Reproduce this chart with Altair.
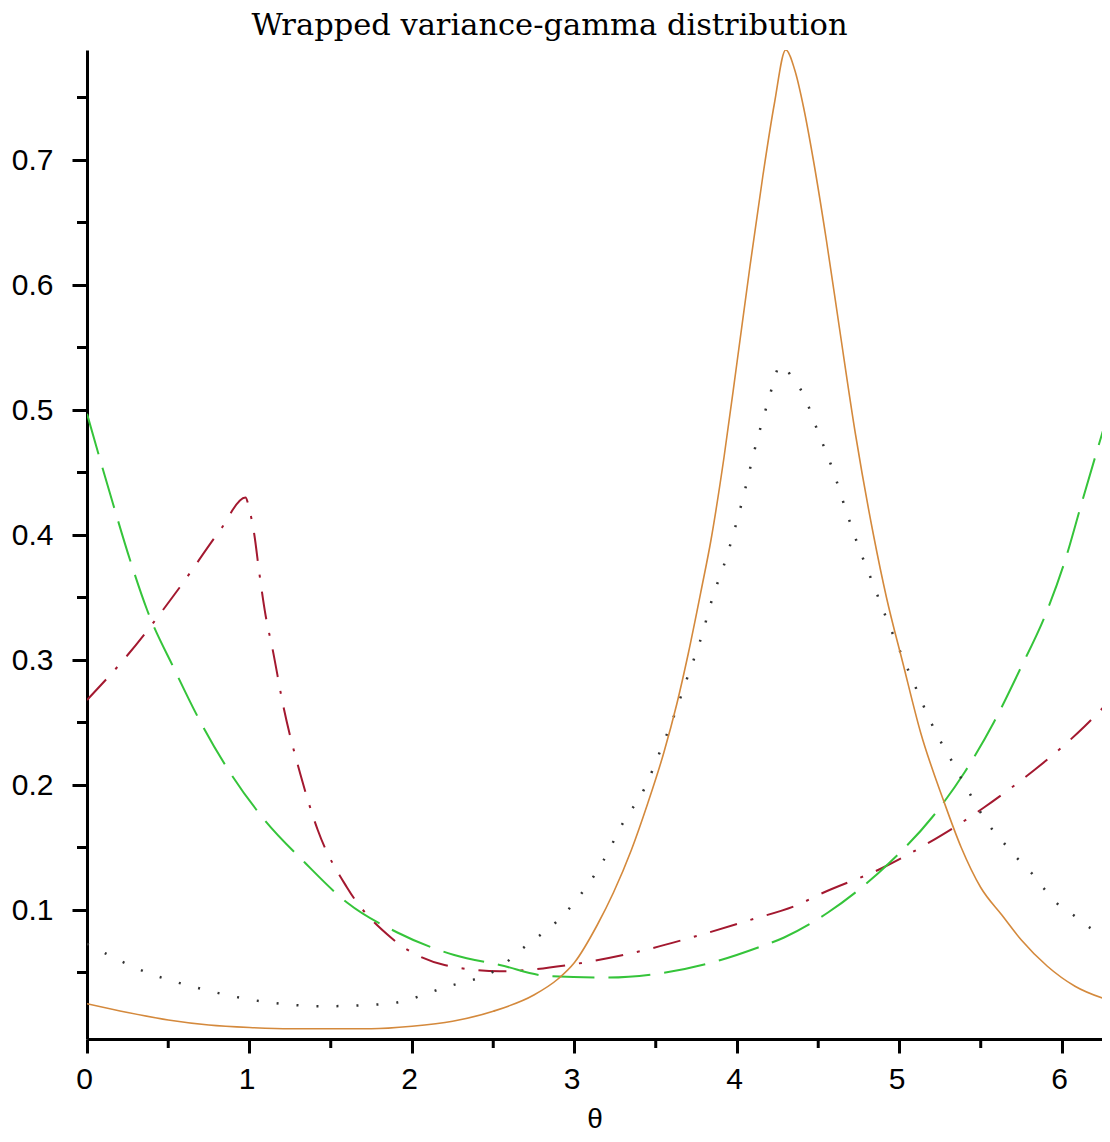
import altair as alt
import pandas as pd

TITLE = "Wrapped variance-gamma distribution"
X_TITLE = "θ"

# solid orange curve
orange_theta = [0, 0.25, 0.5, 0.75, 1.0, 1.25, 1.5, 1.75, 2.0, 2.25, 2.5, 2.75, 2.9, 3.0,
                3.14, 3.24, 3.35, 3.45, 3.55, 3.63, 3.70, 3.78, 3.84, 3.92, 4.0, 4.08,
                4.16, 4.23, 4.30, 4.36, 4.41, 4.47, 4.55, 4.63, 4.73, 4.84, 4.92, 5.02,
                5.13, 5.27, 5.38, 5.50, 5.63, 5.75, 5.91, 6.08, 6.283]
orange_val = [0.025, 0.018, 0.012, 0.008, 0.006, 0.005, 0.005, 0.005, 0.007, 0.011, 0.019,
              0.032, 0.045, 0.058, 0.088, 0.114, 0.148, 0.185, 0.226, 0.265, 0.305, 0.356,
              0.396, 0.462, 0.538, 0.615, 0.688, 0.745, 0.788, 0.77, 0.742, 0.70, 0.636,
              0.566, 0.48, 0.40, 0.35, 0.298, 0.242, 0.188, 0.150, 0.118, 0.096, 0.076,
              0.055, 0.039, 0.028]

# dash-dot red curve
red_theta = [0, 0.25, 0.57, 0.82, 0.975, 1.0, 1.03, 1.06, 1.10, 1.14, 1.21, 1.31, 1.42,
             1.60, 1.87, 2.2, 2.54, 2.96, 3.37, 3.72, 4.08, 4.39, 4.5, 4.9, 5.02, 5.17,
             5.36, 5.52, 5.69, 5.83, 5.98, 6.14, 6.283]
red_val = [0.268, 0.304, 0.358, 0.404, 0.43, 0.42, 0.40, 0.37, 0.335, 0.31, 0.262, 0.21,
           0.164, 0.118, 0.078, 0.056, 0.051, 0.056, 0.066, 0.078, 0.092, 0.105, 0.112,
           0.134, 0.142, 0.153, 0.168, 0.182, 0.198, 0.212, 0.228, 0.247, 0.266]

# dashed green curve
green_theta = [0, 0.16, 0.265, 0.37, 0.54, 0.70, 0.88, 1.08, 1.34, 1.60, 1.91, 2.26, 2.54,
               2.85, 3.2, 3.51, 3.9, 4.13, 4.29, 4.56, 4.94, 5.20, 5.40, 5.58, 5.74,
               5.91, 6.02, 6.12, 6.283]
green_val = [0.497, 0.425, 0.38, 0.34, 0.292, 0.25, 0.21, 0.174, 0.138, 0.106, 0.082,
             0.064, 0.056, 0.047, 0.046, 0.049, 0.06, 0.07, 0.078, 0.098, 0.138, 0.174,
             0.21, 0.25, 0.292, 0.34, 0.38, 0.425, 0.497]

# dotted black curve
black_theta = [0, 0.35, 0.70, 1.07, 1.46, 1.85, 2.2, 2.54, 2.67, 2.96, 3.18, 3.30, 3.43,
               3.53, 3.62, 3.70, 3.78, 3.85, 3.93, 4.03, 4.12, 4.19, 4.27, 4.34, 4.41,
               4.5, 4.59, 4.67, 4.75, 4.84, 4.93, 5.02, 5.08, 5.18, 5.24, 5.31, 5.42,
               5.55, 5.64, 5.72, 5.81, 5.89, 5.98, 6.07, 6.17, 6.283]
black_val = [0.073, 0.051, 0.037, 0.027, 0.023, 0.025, 0.038, 0.054, 0.068, 0.10, 0.14,
             0.17, 0.197, 0.228, 0.258, 0.288, 0.318, 0.35, 0.38, 0.426, 0.474, 0.506,
             0.536, 0.526, 0.512, 0.482, 0.452, 0.42, 0.39, 0.36, 0.33, 0.302, 0.284,
             0.254, 0.238, 0.222, 0.196, 0.168, 0.154, 0.142, 0.13, 0.117, 0.104, 0.096,
             0.086, 0.076]

x_major = [0, 1, 2, 3, 4, 5, 6]
x_minor = [0.5, 1.5, 2.5, 3.5, 4.5, 5.5]
y_major = [0.1, 0.2, 0.3, 0.4, 0.5, 0.6, 0.7]
y_minor = [0.05, 0.15, 0.25, 0.35, 0.45, 0.55, 0.65, 0.75]

W, H = 1015, 989
LABEL_FONT = "Liberation Sans"

xscale = alt.Scale(domain=[0, 6.2463], nice=False, zero=False)
yscale = alt.Scale(domain=[-0.0032, 0.788], nice=False, zero=False)

x_axis = alt.Axis(values=x_major, format="d", title=X_TITLE, grid=False,
                  labelFont=LABEL_FONT, labelFontSize=30, labelColor="black",
                  labelPadding=11, labelFlush=False, labelOverlap=False, labelOffset=-3,
                  tickSize=14, tickWidth=3, tickColor="black",
                  domainWidth=3, domainColor="black",
                  titleFont=LABEL_FONT, titleFontSize=28, titleFontWeight="normal",
                  titleColor="black", titlePadding=11)
y_axis = alt.Axis(values=y_major, format=".1f", title=None, grid=False,
                  labelFont=LABEL_FONT, labelFontSize=30, labelColor="black",
                  labelPadding=19, labelFlush=False, labelOverlap=False,
                  tickSize=15, tickWidth=3, tickColor="black",
                  domainWidth=3, domainColor="black")


def curve(theta, vals, color, width, dash=None):
    df = pd.DataFrame({"theta": theta, "value": vals})
    props = dict(color=color, strokeWidth=width, interpolate="monotone", clip=True)
    if dash is not None:
        props["strokeDash"] = dash
        props["strokeCap"] = "butt"
    return alt.Chart(df).mark_line(**props).encode(
        x=alt.X("theta:Q", scale=xscale, axis=x_axis),
        y=alt.Y("value:Q", scale=yscale, axis=y_axis),
    )


red = curve(red_theta, red_val, "#a3182f", 2, [28, 14, 3, 14])
green = curve(green_theta, green_val, "#35c43a", 2, [42, 14])
black = curve(black_theta, black_val, "#333333", 2.5, [2, 18])
orange = curve(orange_theta, orange_val, "#d4893c", 1.6)

xminor = alt.Chart(pd.DataFrame({"theta": x_minor})).mark_rule(
    color="black", strokeWidth=3).encode(
    x=alt.X("theta:Q", scale=xscale, axis=x_axis),
    y=alt.value(H), y2=alt.value(H + 9))
yminor = alt.Chart(pd.DataFrame({"value": y_minor})).mark_rule(
    color="black", strokeWidth=3).encode(
    y=alt.Y("value:Q", scale=yscale, axis=y_axis),
    x=alt.value(-10), x2=alt.value(0))

chart = alt.layer(red, green, black, orange, xminor, yminor).properties(
    width=W, height=H,
    title=alt.TitleParams(TITLE, font="DejaVu Serif", fontSize=30.5, fontWeight="normal",
                          color="black", dx=-45, offset=9, anchor="middle"),
    autosize=alt.AutoSizeParams(type="none"),
    padding={"left": 79, "top": 42, "right": 0, "bottom": 95},
    background="white",
).configure_view(stroke=None)

chart.save("out.html", embed_options={"renderer": "svg", "actions": False})
